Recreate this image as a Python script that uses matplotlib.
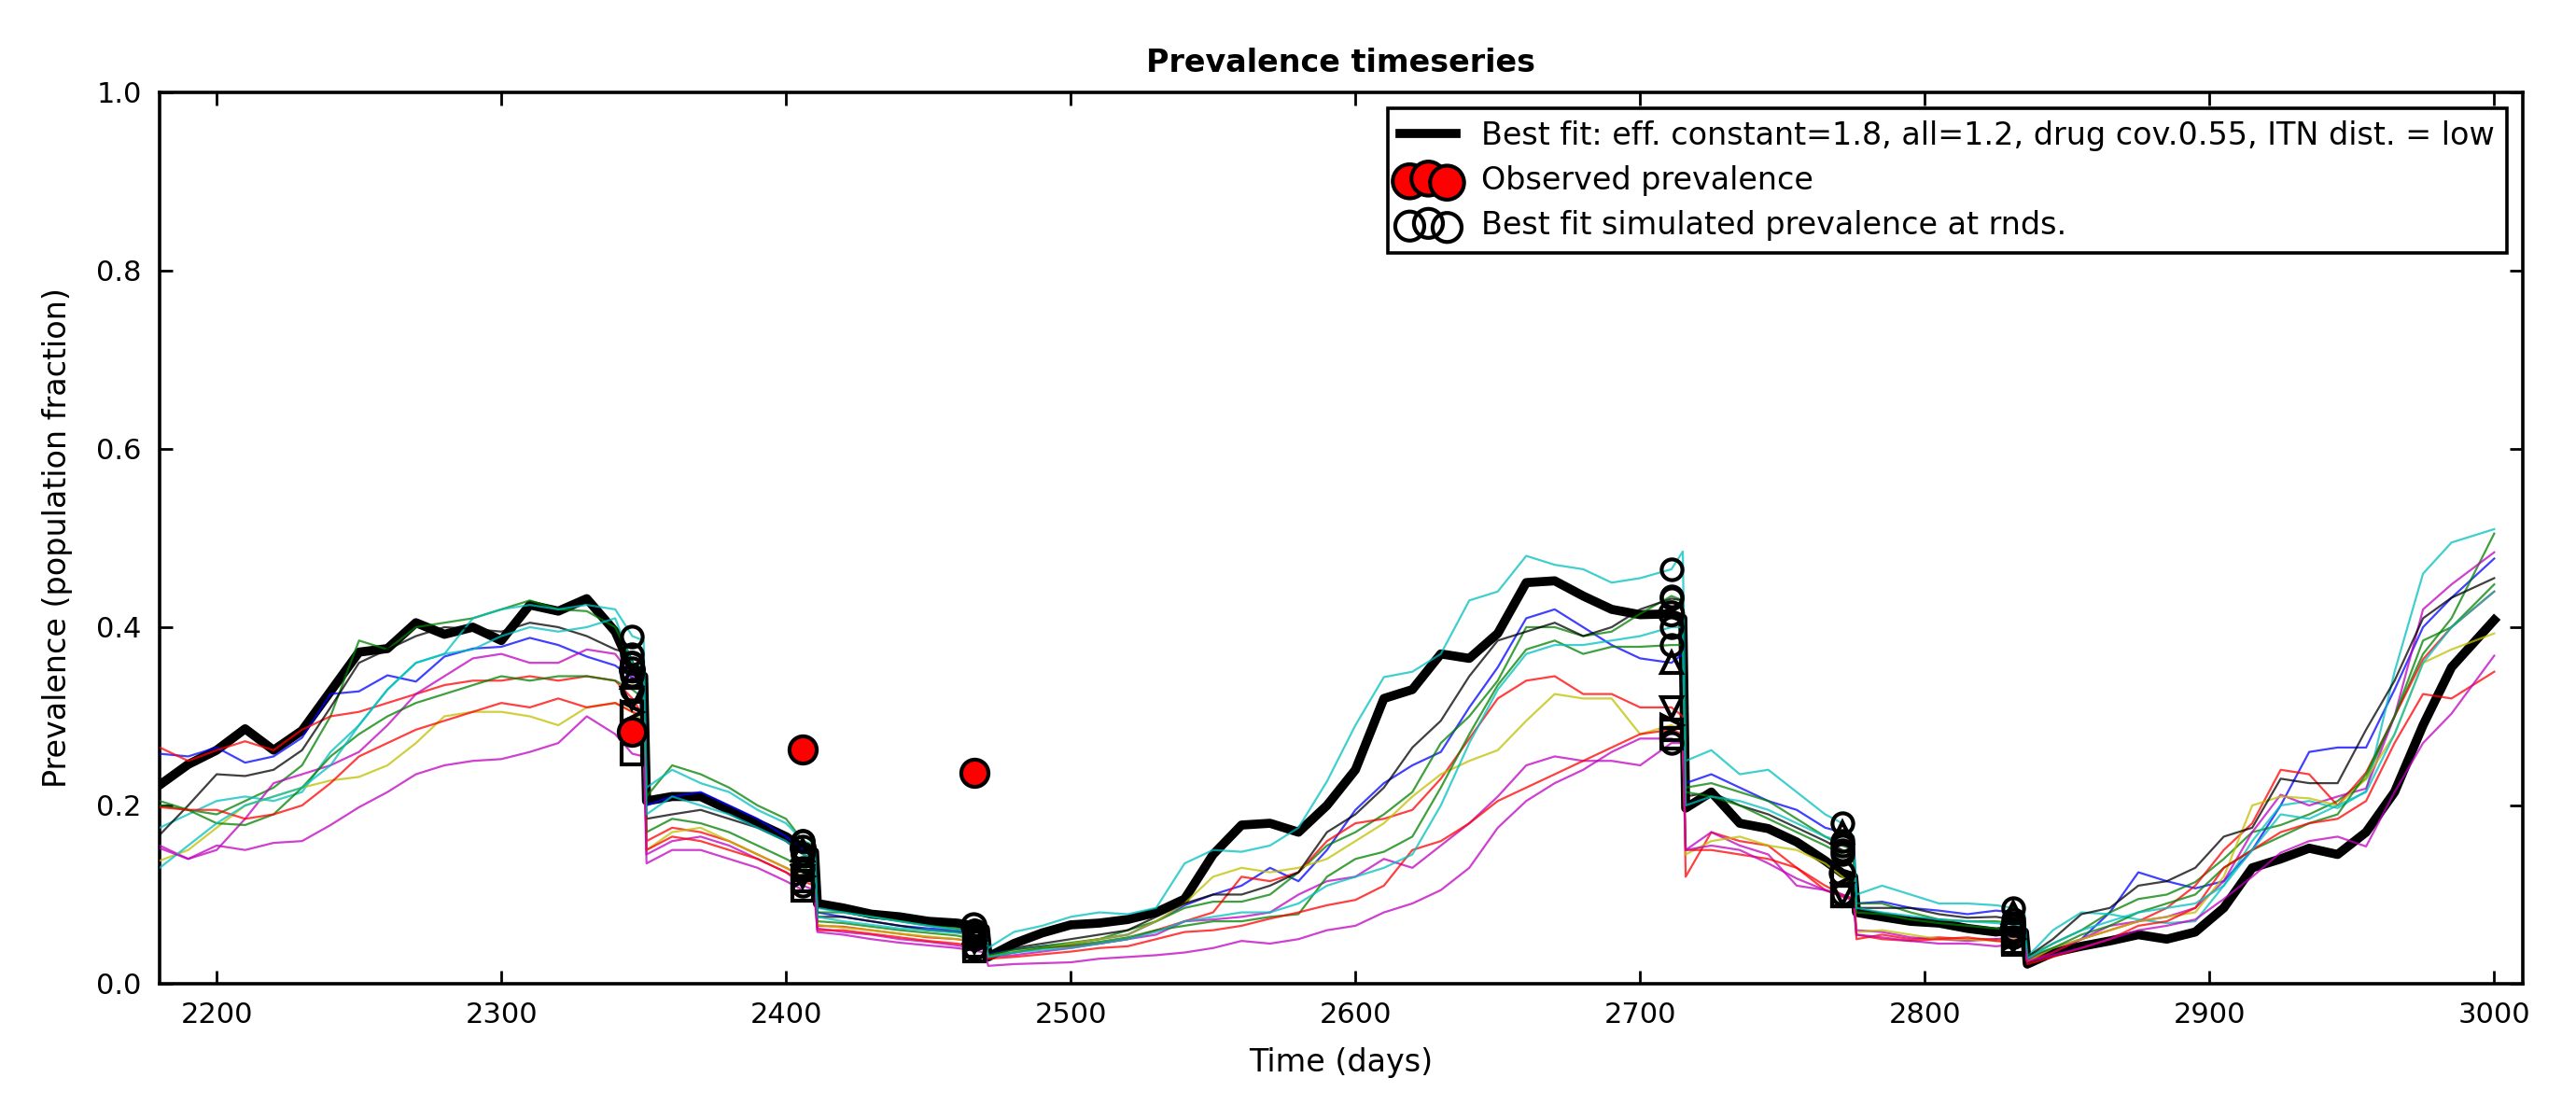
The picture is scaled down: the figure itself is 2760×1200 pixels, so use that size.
import numpy as np
import matplotlib
matplotlib.use("Agg")
import matplotlib.pyplot as plt

# time grid (days); each segment ends just before a round drop
days = [2180, 2190, 2200, 2210, 2220, 2230, 2240, 2250, 2260, 2270, 2280, 2290, 2300, 2310, 2320, 2330, 2340, 2346, 2350,
        2351, 2360, 2370, 2380, 2390, 2400, 2406, 2410,
        2411, 2420, 2430, 2440, 2450, 2460, 2466, 2470,
        2471, 2480, 2490, 2500, 2510, 2520, 2530, 2540, 2550, 2560, 2570, 2580, 2590, 2600, 2610, 2620, 2630, 2640, 2650,
        2660, 2670, 2680, 2690, 2700, 2711, 2715,
        2716, 2725, 2735, 2745, 2755, 2765, 2771, 2775,
        2776, 2785, 2795, 2805, 2815, 2825, 2831, 2835,
        2836, 2845, 2855, 2865, 2875, 2885, 2895, 2905, 2915, 2925, 2935, 2945, 2955, 2965, 2975, 2985, 3000]

rounds = [2346, 2406, 2466, 2711, 2771, 2831]

obs_days = [2346, 2406, 2466]
obs_prev = [0.283, 0.263, 0.237]

best_fit = [0.223, 0.246, 0.262, 0.286, 0.262, 0.284, 0.328, 0.372, 0.376, 0.405, 0.392, 0.400, 0.385, 0.425, 0.418, 0.432, 0.395, 0.352, 0.345,
            0.205, 0.21, 0.21, 0.195, 0.18, 0.165, 0.152, 0.148,
            0.09, 0.085, 0.078, 0.075, 0.07, 0.068, 0.065, 0.062,
            0.03, 0.045, 0.057, 0.066, 0.068, 0.072, 0.08, 0.095, 0.145, 0.178, 0.18, 0.17, 0.20, 0.24, 0.32, 0.33, 0.37, 0.365, 0.393,
            0.45, 0.452, 0.435, 0.42, 0.414, 0.415, 0.41,
            0.197, 0.215, 0.18, 0.174, 0.159, 0.138, 0.124, 0.12,
            0.08, 0.075, 0.07, 0.068, 0.062, 0.058, 0.06, 0.058,
            0.022, 0.035, 0.042, 0.048, 0.055, 0.05, 0.058, 0.085, 0.13, 0.14, 0.152, 0.145, 0.17, 0.215, 0.29, 0.355, 0.408]

sim_blue = [0.258, 0.255, 0.265, 0.248, 0.255, 0.276, 0.325, 0.328, 0.346, 0.339, 0.367, 0.376, 0.378, 0.388, 0.38, 0.367, 0.357, 0.343, 0.339,
            0.20, 0.21, 0.215, 0.20, 0.185, 0.165, 0.15, 0.145,
            0.08, 0.075, 0.07, 0.065, 0.062, 0.06, 0.058, 0.055,
            0.035, 0.038, 0.042, 0.045, 0.05, 0.055, 0.07, 0.088, 0.1, 0.11, 0.13, 0.115, 0.15, 0.195, 0.225, 0.245, 0.26, 0.31, 0.355,
            0.41, 0.42, 0.40, 0.38, 0.365, 0.36, 0.37,
            0.225, 0.235, 0.22, 0.205, 0.195, 0.175, 0.17, 0.165,
            0.09, 0.092, 0.085, 0.082, 0.078, 0.082, 0.08, 0.075,
            0.025, 0.035, 0.05, 0.08, 0.125, 0.115, 0.107, 0.115, 0.15, 0.20, 0.26, 0.265, 0.265, 0.33, 0.40, 0.433, 0.477]

sim_green1 = [0.20, 0.195, 0.19, 0.205, 0.22, 0.245, 0.30, 0.385, 0.375, 0.40, 0.405, 0.41, 0.42, 0.43, 0.42, 0.418, 0.40, 0.36, 0.35,
              0.21, 0.245, 0.235, 0.22, 0.20, 0.185, 0.16, 0.155,
              0.08, 0.08, 0.075, 0.07, 0.065, 0.062, 0.06, 0.058,
              0.032, 0.038, 0.042, 0.046, 0.05, 0.06, 0.07, 0.085, 0.092, 0.092, 0.10, 0.125, 0.155, 0.17, 0.19, 0.215, 0.27, 0.30, 0.34,
              0.40, 0.40, 0.39, 0.395, 0.415, 0.435, 0.43,
              0.22, 0.225, 0.215, 0.205, 0.185, 0.165, 0.155, 0.15,
              0.09, 0.09, 0.08, 0.072, 0.07, 0.07, 0.068, 0.065,
              0.03, 0.045, 0.06, 0.08, 0.095, 0.1, 0.114, 0.14, 0.17, 0.178, 0.19, 0.205, 0.23, 0.3, 0.37, 0.41, 0.505]

sim_red1 = [0.265, 0.25, 0.262, 0.272, 0.262, 0.285, 0.30, 0.305, 0.315, 0.325, 0.335, 0.34, 0.34, 0.345, 0.34, 0.345, 0.34, 0.32, 0.30,
            0.16, 0.175, 0.17, 0.16, 0.145, 0.13, 0.12, 0.115,
            0.065, 0.064, 0.06, 0.056, 0.052, 0.05, 0.047, 0.045,
            0.03, 0.035, 0.04, 0.042, 0.045, 0.05, 0.06, 0.07, 0.08, 0.12, 0.115, 0.125, 0.16, 0.18, 0.185, 0.195, 0.23, 0.275, 0.32,
            0.34, 0.345, 0.325, 0.325, 0.31, 0.31, 0.30,
            0.12, 0.17, 0.16, 0.155, 0.13, 0.11, 0.10, 0.095,
            0.05, 0.055, 0.05, 0.052, 0.05, 0.05, 0.048, 0.045,
            0.025, 0.035, 0.05, 0.06, 0.07, 0.085, 0.11, 0.15, 0.18, 0.24, 0.235, 0.2, 0.237, 0.3, 0.364, 0.40, 0.44]

sim_cyan1 = [0.175, 0.19, 0.205, 0.21, 0.205, 0.215, 0.26, 0.29, 0.33, 0.36, 0.37, 0.41, 0.42, 0.425, 0.42, 0.425, 0.42, 0.39, 0.385,
             0.22, 0.24, 0.225, 0.215, 0.195, 0.18, 0.16, 0.155,
             0.085, 0.08, 0.075, 0.07, 0.065, 0.06, 0.06, 0.058,
             0.04, 0.058, 0.065, 0.075, 0.08, 0.078, 0.085, 0.135, 0.15, 0.148, 0.155, 0.175, 0.227, 0.29, 0.344, 0.35, 0.37, 0.43, 0.44,
             0.48, 0.47, 0.465, 0.45, 0.455, 0.465, 0.485,
             0.25, 0.262, 0.235, 0.24, 0.215, 0.19, 0.18, 0.165,
             0.10, 0.11, 0.10, 0.09, 0.09, 0.088, 0.085, 0.08,
             0.03, 0.06, 0.08, 0.078, 0.072, 0.068, 0.07, 0.11, 0.16, 0.2, 0.205, 0.197, 0.216, 0.35, 0.46, 0.495, 0.51]

sim_magenta1 = [0.155, 0.14, 0.15, 0.185, 0.225, 0.235, 0.245, 0.26, 0.29, 0.325, 0.345, 0.365, 0.37, 0.36, 0.36, 0.375, 0.37, 0.345, 0.33,
                0.145, 0.16, 0.165, 0.155, 0.14, 0.125, 0.11, 0.105,
                0.062, 0.058, 0.055, 0.05, 0.047, 0.043, 0.04, 0.038,
                0.03, 0.032, 0.036, 0.04, 0.045, 0.05, 0.055, 0.07, 0.072, 0.075, 0.08, 0.1, 0.115, 0.12, 0.14, 0.13, 0.155, 0.18, 0.21,
                0.245, 0.255, 0.25, 0.25, 0.245, 0.27, 0.27,
                0.15, 0.17, 0.155, 0.145, 0.11, 0.105, 0.10, 0.095,
                0.06, 0.058, 0.052, 0.05, 0.048, 0.05, 0.052, 0.05,
                0.028, 0.04, 0.05, 0.065, 0.07, 0.075, 0.085, 0.115, 0.17, 0.212, 0.2, 0.21, 0.219, 0.3, 0.42, 0.448, 0.484]

sim_yellow = [0.138, 0.15, 0.175, 0.2, 0.21, 0.22, 0.228, 0.232, 0.245, 0.27, 0.30, 0.305, 0.305, 0.30, 0.29, 0.31, 0.315, 0.305, 0.295,
              0.15, 0.17, 0.175, 0.16, 0.145, 0.13, 0.12, 0.115,
              0.066, 0.063, 0.06, 0.056, 0.053, 0.05, 0.048, 0.046,
              0.03, 0.036, 0.04, 0.045, 0.05, 0.055, 0.07, 0.09, 0.12, 0.13, 0.125, 0.13, 0.14, 0.16, 0.18, 0.21, 0.235, 0.25, 0.262,
              0.295, 0.325, 0.32, 0.32, 0.28, 0.29, 0.285,
              0.145, 0.16, 0.165, 0.155, 0.15, 0.135, 0.12, 0.11,
              0.058, 0.06, 0.055, 0.05, 0.05, 0.048, 0.05, 0.048,
              0.025, 0.04, 0.05, 0.06, 0.07, 0.075, 0.08, 0.12, 0.2, 0.21, 0.208, 0.20, 0.23, 0.28, 0.36, 0.375, 0.393]

sim_gray = [0.167, 0.20, 0.235, 0.233, 0.24, 0.262, 0.31, 0.36, 0.375, 0.39, 0.40, 0.398, 0.395, 0.405, 0.40, 0.39, 0.375, 0.37, 0.365,
            0.185, 0.19, 0.195, 0.185, 0.175, 0.16, 0.145, 0.14,
            0.075, 0.075, 0.07, 0.065, 0.06, 0.058, 0.055, 0.052,
            0.035, 0.04, 0.045, 0.05, 0.055, 0.06, 0.075, 0.09, 0.1, 0.1, 0.11, 0.125, 0.17, 0.19, 0.22, 0.265, 0.295, 0.345, 0.385,
            0.395, 0.405, 0.39, 0.40, 0.42, 0.432, 0.43,
            0.21, 0.215, 0.2, 0.19, 0.175, 0.16, 0.15, 0.145,
            0.085, 0.085, 0.085, 0.078, 0.074, 0.075, 0.072, 0.07,
            0.03, 0.05, 0.078, 0.085, 0.11, 0.115, 0.13, 0.165, 0.175, 0.23, 0.225, 0.225, 0.285, 0.34, 0.41, 0.433, 0.455]

sim_green2 = [0.205, 0.195, 0.18, 0.178, 0.19, 0.22, 0.255, 0.28, 0.30, 0.315, 0.325, 0.335, 0.345, 0.34, 0.345, 0.345, 0.34, 0.33, 0.32,
              0.17, 0.185, 0.18, 0.17, 0.155, 0.14, 0.13, 0.125,
              0.07, 0.068, 0.064, 0.06, 0.057, 0.054, 0.05, 0.048,
              0.03, 0.035, 0.04, 0.043, 0.047, 0.052, 0.06, 0.065, 0.07, 0.07, 0.075, 0.078, 0.12, 0.14, 0.148, 0.165, 0.22, 0.28, 0.335,
              0.375, 0.385, 0.37, 0.378, 0.378, 0.38, 0.38,
              0.215, 0.21, 0.20, 0.185, 0.17, 0.155, 0.145, 0.14,
              0.08, 0.078, 0.072, 0.068, 0.065, 0.062, 0.06, 0.058,
              0.03, 0.04, 0.055, 0.065, 0.08, 0.09, 0.1, 0.13, 0.15, 0.165, 0.18, 0.19, 0.235, 0.3, 0.385, 0.40, 0.448]

sim_red2 = [0.198, 0.195, 0.195, 0.185, 0.19, 0.2, 0.225, 0.255, 0.27, 0.285, 0.295, 0.305, 0.315, 0.31, 0.32, 0.31, 0.315, 0.305, 0.30,
            0.15, 0.165, 0.16, 0.15, 0.14, 0.125, 0.115, 0.11,
            0.06, 0.06, 0.056, 0.052, 0.048, 0.045, 0.042, 0.04,
            0.028, 0.03, 0.033, 0.036, 0.04, 0.042, 0.05, 0.058, 0.06, 0.065, 0.073, 0.08, 0.088, 0.094, 0.11, 0.15, 0.16, 0.18, 0.205,
            0.22, 0.235, 0.25, 0.265, 0.28, 0.285, 0.28,
            0.15, 0.15, 0.145, 0.14, 0.13, 0.105, 0.098, 0.095,
            0.055, 0.05, 0.048, 0.05, 0.052, 0.048, 0.046, 0.044,
            0.022, 0.03, 0.04, 0.05, 0.065, 0.07, 0.085, 0.13, 0.15, 0.17, 0.18, 0.185, 0.205, 0.27, 0.325, 0.32, 0.35]

sim_cyan2 = [0.13, 0.155, 0.18, 0.2, 0.21, 0.22, 0.245, 0.29, 0.33, 0.36, 0.37, 0.375, 0.39, 0.40, 0.395, 0.40, 0.41, 0.36, 0.355,
             0.19, 0.21, 0.2, 0.19, 0.175, 0.16, 0.145, 0.14,
             0.075, 0.07, 0.066, 0.062, 0.06, 0.057, 0.054, 0.052,
             0.03, 0.035, 0.038, 0.04, 0.045, 0.05, 0.058, 0.07, 0.075, 0.08, 0.08, 0.09, 0.11, 0.12, 0.13, 0.145, 0.2, 0.27, 0.33,
             0.37, 0.38, 0.38, 0.385, 0.39, 0.40, 0.40,
             0.20, 0.21, 0.205, 0.195, 0.18, 0.165, 0.16, 0.155,
             0.085, 0.08, 0.076, 0.072, 0.07, 0.068, 0.066, 0.064,
             0.028, 0.045, 0.06, 0.07, 0.08, 0.085, 0.09, 0.11, 0.15, 0.19, 0.185, 0.2, 0.215, 0.28, 0.36, 0.40, 0.44]

sim_magenta2 = [0.152, 0.14, 0.155, 0.15, 0.158, 0.16, 0.178, 0.198, 0.215, 0.235, 0.245, 0.25, 0.252, 0.26, 0.27, 0.30, 0.28, 0.258, 0.255,
                0.135, 0.15, 0.15, 0.14, 0.13, 0.115, 0.105, 0.10,
                0.058, 0.055, 0.05, 0.046, 0.043, 0.04, 0.037, 0.035,
                0.02, 0.022, 0.023, 0.024, 0.028, 0.03, 0.032, 0.035, 0.04, 0.048, 0.045, 0.05, 0.06, 0.065, 0.08, 0.09, 0.105, 0.13, 0.175,
                0.205, 0.225, 0.24, 0.26, 0.275, 0.275, 0.27,
                0.15, 0.155, 0.15, 0.135, 0.118, 0.105, 0.098, 0.093,
                0.055, 0.052, 0.048, 0.045, 0.045, 0.042, 0.044, 0.042,
                0.025, 0.032, 0.04, 0.05, 0.06, 0.065, 0.072, 0.095, 0.12, 0.147, 0.16, 0.165, 0.154, 0.215, 0.27, 0.303, 0.368]

# classic matplotlib colour cycle
sims = [(sim_blue, (0, 0, 1), '^'), (sim_green1, (0, 0.5, 0), 'o'), (sim_red1, (1, 0, 0), 'v'),
        (sim_cyan1, (0, 0.75, 0.75), 'o'), (sim_magenta1, (0.75, 0, 0.75), 'o'), (sim_yellow, (0.75, 0.75, 0), '>'),
        (sim_gray, (0, 0, 0), 'o'), (sim_green2, (0, 0.5, 0), 'o'), (sim_red2, (1, 0, 0), 's'),
        (sim_cyan2, (0, 0.75, 0.75), 'o'), (sim_magenta2, (0.75, 0, 0.75), 's')]

plt.rcParams['font.family'] = 'DejaVu Sans'
fig = plt.figure(figsize=(13.8, 6), dpi=200)
ax = fig.add_axes([0.062, 0.1217, 0.9173, 0.7958])

days = np.array(days)
rnd_idx = [list(days).index(r) for r in rounds]

ax.plot(days, best_fit, color='k', lw=3.5, zorder=3,
        label='Best fit: eff. constant=1.8, all=1.2, drug cov.0.55, ITN dist. = low')
for vals, col, mk in sims:
    ax.plot(days, vals, color=col, alpha=0.75, lw=0.8, zorder=4)
for vals, col, mk in sims:
    vals = np.array(vals)
    ax.plot(rounds, vals[rnd_idx], ls='none', marker=mk, ms=8, mfc='none', mec='k', mew=1.5, zorder=5)

bf = np.array(best_fit)
ax.scatter(obs_days, obs_prev, s=110, c='red', edgecolors='k', linewidths=1.5, zorder=7,
           label='Observed prevalence')
ax.scatter(rounds, bf[rnd_idx], s=80, facecolors='none', edgecolors='k', linewidths=1.5, zorder=6,
           label='Best fit simulated prevalence at rnds.')

ax.set_xlim(2180, 3010)
ax.set_ylim(0, 1.0)
ax.set_xticks(np.arange(2200, 3001, 100))
ax.set_yticks(np.arange(0, 1.01, 0.2))
ax.yaxis.set_major_formatter(matplotlib.ticker.FormatStrFormatter('%.1f'))
ax.tick_params(direction='in', top=True, right=True, length=5, width=1, labelsize=11, pad=7)
for sp in ax.spines.values():
    sp.set_linewidth(1.3)

ax.set_xlabel('Time (days)', fontsize=12, labelpad=7)
ax.set_ylabel('Prevalence (population fraction)', fontsize=12, labelpad=9)
ax.set_title('Prevalence timeseries', fontsize=12, fontweight='bold', pad=8)

leg = ax.legend(loc='upper right', scatterpoints=3, fontsize=12, fancybox=False, framealpha=1,
                handlelength=1.8, labelspacing=0.45, markerscale=1.25)
leg.get_frame().set_edgecolor('k')
leg.get_frame().set_linewidth(1.3)

fig.savefig('out.png', dpi=200)
